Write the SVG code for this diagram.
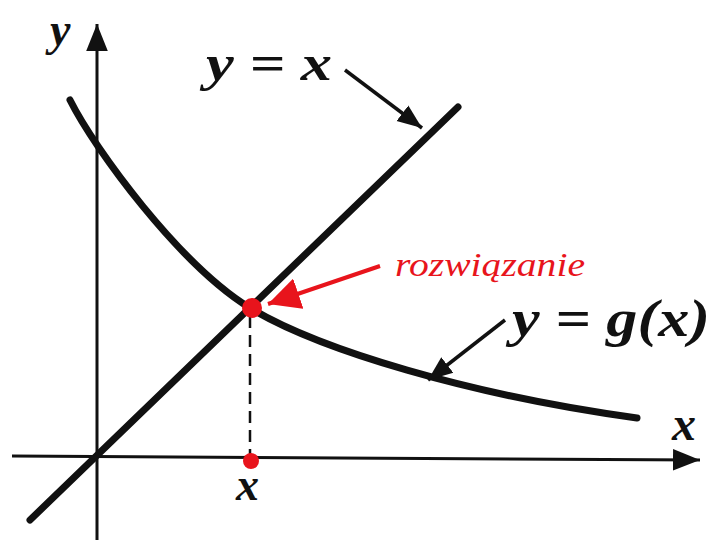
<svg xmlns="http://www.w3.org/2000/svg" width="712" height="546" viewBox="0 0 712 546">
<style>
.lab{font-family:"Liberation Serif","DejaVu Serif",serif;font-style:italic;font-weight:bold;fill:#111}
.red{font-family:"Liberation Serif","DejaVu Serif",serif;font-style:italic;fill:#e8141c}
.ax{stroke:#111;stroke-width:3;fill:none}
.thick{stroke:#111;stroke-width:7;fill:none;stroke-linecap:round}
.ptr{stroke:#111;stroke-width:3.5;fill:none}
</style>
<defs>
<marker id="axh" viewBox="0 0 10 10" refX="10" refY="5" markerWidth="9" markerHeight="9" orient="auto"><path d="M0,1 L10,5 L0,9 Z" fill="#111"/></marker>
<marker id="bh" viewBox="0 0 10 10" refX="10" refY="5" markerWidth="7" markerHeight="7" orient="auto"><path d="M0,1 L10,5 L0,9 Z" fill="#111"/></marker>
<marker id="rh" viewBox="0 0 10 10" refX="10" refY="5" markerWidth="8" markerHeight="8" orient="auto"><path d="M0,0 L10,5 L0,10 Z" fill="#e8141c"/></marker>
</defs>
<rect width="712" height="546" fill="#fff"/>
<g id="connectors">
<line class="ax" x1="97" y1="540" x2="97" y2="24" marker-end="url(#axh)"/>
<line class="ax" x1="12" y1="456" x2="700" y2="460" marker-end="url(#axh)"/>
<line class="thick" x1="30" y1="520" x2="458" y2="107"/>
<path class="thick" d="M70,100 C95,150 180,265 250,308 C320,350 470,395 637,418"/>
<line x1="250" y1="316" x2="250" y2="454" stroke="#111" stroke-width="2.5" stroke-dasharray="12,7"/>
<line class="ptr" x1="345" y1="70" x2="422" y2="128" marker-end="url(#bh)"/>
<line class="ptr" x1="505" y1="320" x2="428" y2="380" marker-end="url(#bh)"/>
<line x1="380" y1="266" x2="268" y2="304" stroke="#e8141c" stroke-width="4" marker-end="url(#rh)"/>
</g>
<g id="solution"><circle cx="252" cy="308" r="10" fill="#e8141c"/></g>
<g id="xpoint"><circle cx="251" cy="461" r="8" fill="#e8141c"/></g>
<g id="labels">
<text class="lab" x="50" y="45" font-size="46">y</text>
<text class="lab" x="206" y="80" font-size="50" textLength="126" lengthAdjust="spacingAndGlyphs">y = x</text>
<text class="red" x="395" y="276" font-size="33" textLength="190" lengthAdjust="spacingAndGlyphs">rozwiązanie</text>
<text class="lab" x="512" y="336" font-size="52" textLength="198" lengthAdjust="spacingAndGlyphs">y = g(x)</text>
<text class="lab" x="672" y="440" font-size="48">x</text>
<text class="lab" x="236" y="500" font-size="46">x</text>
</g>
</svg>
